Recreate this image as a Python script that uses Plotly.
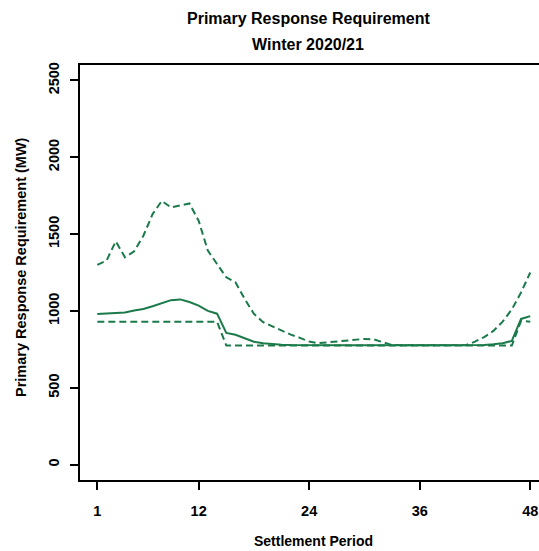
import plotly.graph_objects as go

# Settlement periods 1..48
periods = list(range(1, 49))

# Requirement (MW) per settlement period
mid_requirement = [980, 982, 985, 990, 1003, 1012, 1030, 1052, 1070, 1075, 1058, 1035,
                   1000, 982, 857, 845, 820, 800, 790, 784, 780, 778, 777, 777,
                   777, 777, 777, 777, 777, 777, 777, 777, 777, 777, 777, 777,
                   777, 777, 777, 777, 777, 777, 779, 783, 790, 805, 948, 966]
high_requirement = [1300, 1327, 1453, 1349, 1388, 1489, 1630, 1716, 1673, 1688, 1699, 1587,
                    1392, 1305, 1219, 1186, 1078, 981, 927, 900, 872, 846, 825, 801,
                    790, 795, 800, 805, 810, 818, 815, 798, 778, 777, 777, 777,
                    777, 777, 777, 777, 777, 800, 830, 870, 930, 1010, 1120, 1250]
low_requirement = [930, 930, 930, 930, 930, 930, 930, 930, 930, 930, 930, 930,
                   930, 930, 775, 775, 775, 775, 775, 775, 775, 775, 775, 775,
                   775, 775, 775, 775, 775, 775, 775, 775, 775, 775, 775, 775,
                   775, 775, 775, 775, 775, 775, 775, 775, 775, 775, 935, 930]

x_ticks = [1, 12, 24, 36, 48]
y_ticks = [0, 500, 1000, 1500, 2000, 2500]

GREEN = "#1a7a4a"
FONT = "Liberation Sans"

fig = go.Figure()
fig.add_trace(go.Scatter(x=periods, y=high_requirement, mode="lines",
                         line=dict(color=GREEN, width=2, dash="7px,4px")))
fig.add_trace(go.Scatter(x=periods, y=low_requirement, mode="lines",
                         line=dict(color=GREEN, width=2, dash="7px,4px")))
fig.add_trace(go.Scatter(x=periods, y=mid_requirement, mode="lines",
                         line=dict(color=GREEN, width=2)))

fig.update_layout(
    width=539, height=551,
    margin=dict(l=80, r=0, t=65, b=71),
    paper_bgcolor="white", plot_bgcolor="white",
    showlegend=False,
    font=dict(family=FONT, color="black"),
    xaxis=dict(range=[-0.88, 48.95], tickmode="array", tickvals=x_ticks,
               ticktext=[str(t) for t in x_ticks],
               showgrid=False, zeroline=False,
               showline=True, linecolor="black", linewidth=1.5, mirror=True,
               ticks="outside", ticklen=8, tickwidth=1.5, tickcolor="black",
               tickfont=dict(family=FONT, size=14.5, color="black", weight="bold"),
               ticklabelstandoff=9),
    yaxis=dict(range=[-100, 2600], tickmode="array", tickvals=y_ticks,
               ticktext=[str(t) for t in y_ticks],
               showgrid=False, zeroline=False,
               showline=True, linecolor="black", linewidth=1.5,
               ticks="outside", ticklen=8, tickwidth=1.5, tickcolor="black",
               tickangle=-90,
               tickfont=dict(family=FONT, size=14.5, color="black", weight="bold"),
               ticklabelstandoff=5),
)

annotations = [
    dict(text="<b>Primary Response Requirement</b>", x=308, y=18, size=16),
    dict(text="<b>Winter 2020/21</b>", x=308, y=44, size=16),
    dict(text="<b>Settlement Period</b>", x=313, y=541, size=14),
]
for a in annotations:
    fig.add_annotation(text=a["text"], xref="paper", yref="paper",
                       x=(a["x"] - 80) / 459, y=1 - (a["y"] - 65) / 415,
                       xanchor="center", yanchor="middle", showarrow=False,
                       font=dict(family=FONT, size=a["size"], color="black"))
fig.add_annotation(text="<b>Primary Response Requirement (MW)</b>", xref="paper", yref="paper",
                   x=(21 - 80) / 459, y=1 - (267 - 65) / 415,
                   xanchor="center", yanchor="middle", textangle=-90, showarrow=False,
                   font=dict(family=FONT, size=14.5, color="black"))

fig.write_html("out.html")
